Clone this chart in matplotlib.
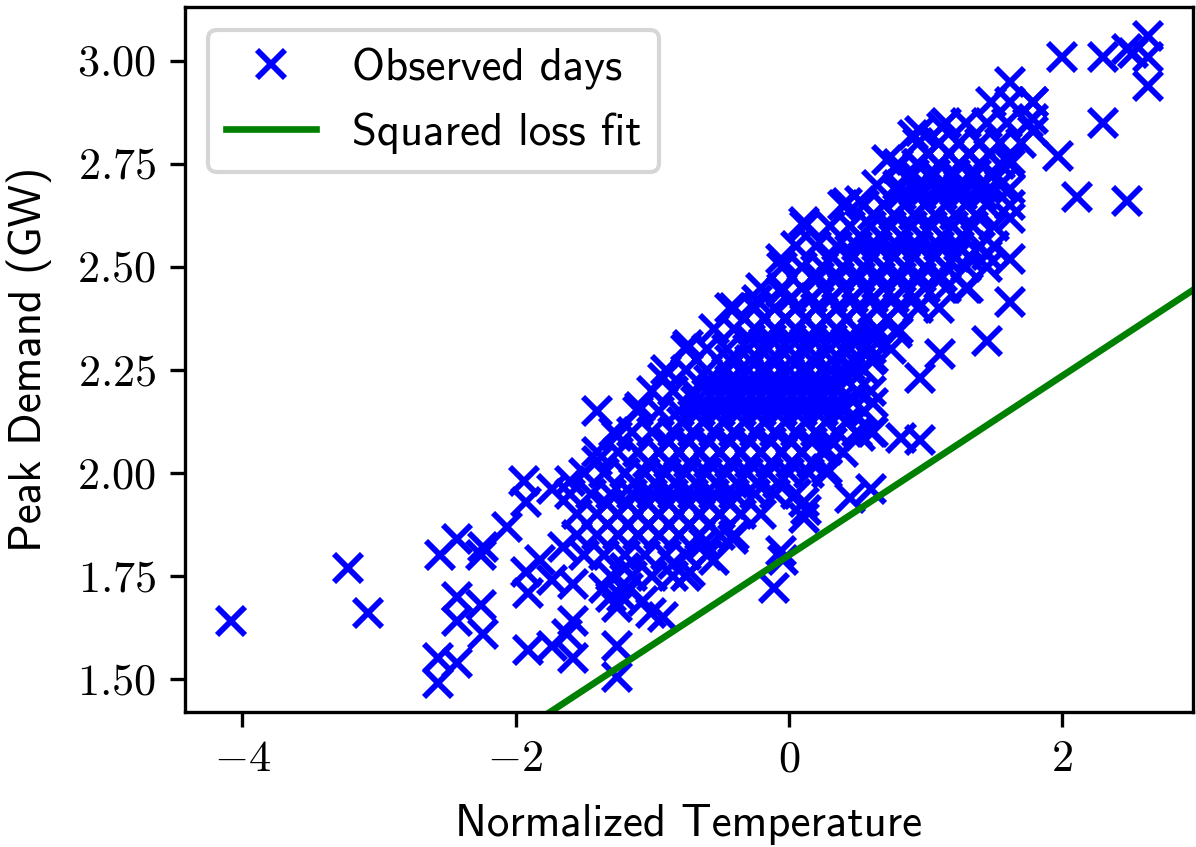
import matplotlib
matplotlib.use("Agg")
import matplotlib.pyplot as plt
from matplotlib.ticker import FuncFormatter

plt.rcParams['font.family'] = 'cmss10'
plt.rcParams['mathtext.fontset'] = 'cm'
plt.rcParams['axes.unicode_minus'] = False

# dense core of the cloud, one demand level per row
row_levels = [1.70, 1.75, 1.80, 1.85, 1.90, 1.95, 2.00, 2.05, 2.10, 2.15, 2.20,
              2.25, 2.30, 2.35, 2.40, 2.45, 2.50, 2.55, 2.60, 2.65, 2.70, 2.75,
              2.80, 2.85, 2.90]
row_temps = [
    [-1.30, -1.22],
    [-1.30, -1.15, -1.00, -0.85, -0.75],
    [-1.50, -1.35, -1.20, -1.05, -0.90, -0.75, -0.60],
    [-1.55, -1.40, -1.25, -1.10, -0.95, -0.80, -0.65, -0.50, -0.40],
    [-1.55, -1.40, -1.25, -1.10, -0.95, -0.80, -0.65, -0.50, -0.35, -0.20],
    [-1.60, -1.45, -1.30, -1.15, -1.00, -0.85, -0.70, -0.55, -0.40, -0.25, -0.10, 0.05],
    [-1.50, -1.35, -1.20, -1.05, -0.90, -0.75, -0.60, -0.45, -0.30, -0.15, 0.00, 0.15, 0.28],
    [-1.40, -1.25, -1.10, -0.95, -0.80, -0.65, -0.50, -0.35, -0.20, -0.05, 0.10, 0.25, 0.40],
    [-1.28, -1.15, -1.00, -0.85, -0.70, -0.55, -0.40, -0.25, -0.10, 0.05, 0.20, 0.35, 0.50, 0.60],
    [-1.10, -0.95, -0.80, -0.65, -0.50, -0.35, -0.20, -0.05, 0.10, 0.25, 0.40, 0.55],
    [-1.00, -0.85, -0.70, -0.55, -0.40, -0.25, -0.10, 0.05, 0.20, 0.35, 0.50, 0.60],
    [-0.90, -0.75, -0.60, -0.45, -0.30, -0.15, 0.00, 0.15, 0.30, 0.45, 0.55],
    [-0.75, -0.60, -0.45, -0.30, -0.15, 0.00, 0.15, 0.30, 0.45, 0.60, 0.75],
    [-0.55, -0.40, -0.25, -0.10, 0.05, 0.20, 0.35, 0.50, 0.65, 0.80],
    [-0.40, -0.25, -0.10, 0.05, 0.20, 0.35, 0.50, 0.65, 0.80, 0.95, 1.10],
    [-0.20, -0.05, 0.10, 0.25, 0.40, 0.55, 0.70, 0.85, 1.00, 1.15, 1.30],
    [-0.05, 0.10, 0.25, 0.40, 0.55, 0.70, 0.85, 1.00, 1.15, 1.30, 1.45],
    [0.05, 0.20, 0.35, 0.50, 0.65, 0.80, 0.95, 1.10, 1.25, 1.40, 1.50],
    [0.12, 0.30, 0.45, 0.60, 0.75, 0.90, 1.05, 1.20, 1.35, 1.50],
    [0.40, 0.55, 0.70, 0.85, 1.00, 1.15, 1.30, 1.45, 1.62],
    [0.65, 0.80, 0.95, 1.10, 1.25, 1.40, 1.55],
    [0.80, 0.95, 1.10, 1.25, 1.40, 1.55, 1.62],
    [0.95, 1.10, 1.25, 1.40, 1.55, 1.70],
    [1.15, 1.30, 1.45, 1.60, 1.75],
    [1.48, 1.62, 1.79],
]

# in-between days that make the centre of the cloud look solid
mid_levels = [1.875, 1.925, 1.975, 2.025, 2.075, 2.125, 2.175, 2.225, 2.275,
              2.325, 2.375, 2.425, 2.475, 2.525, 2.575, 2.625, 2.675, 2.725, 2.775]
mid_temps = [
    [-1.18, -1.03, -0.88, -0.73, -0.58],
    [-1.33, -1.18, -1.03, -0.88, -0.73, -0.58, -0.43],
    [-1.13, -0.98, -0.83, -0.68, -0.53, -0.38, -0.23, -0.08],
    [-1.03, -0.88, -0.73, -0.58, -0.43, -0.28, -0.13, 0.02, 0.17],
    [-0.88, -0.73, -0.58, -0.43, -0.28, -0.13, 0.02, 0.17, 0.32],
    [-0.78, -0.63, -0.48, -0.33, -0.18, -0.03, 0.12, 0.27, 0.42],
    [-0.68, -0.53, -0.38, -0.23, -0.08, 0.07, 0.22, 0.37, 0.47],
    [-0.58, -0.43, -0.28, -0.13, 0.02, 0.17, 0.32, 0.42],
    [-0.43, -0.28, -0.13, 0.02, 0.17, 0.32, 0.47, 0.60],
    [-0.28, -0.13, 0.02, 0.17, 0.32, 0.47, 0.62],
    [-0.18, -0.03, 0.12, 0.27, 0.42, 0.57, 0.72],
    [0.02, 0.17, 0.32, 0.47, 0.62, 0.77, 0.92],
    [0.22, 0.37, 0.52, 0.67, 0.82, 0.97, 1.12],
    [0.32, 0.47, 0.62, 0.77, 0.92, 1.07, 1.22, 1.32],
    [0.52, 0.67, 0.82, 0.97, 1.12, 1.27],
    [0.62, 0.77, 0.92, 1.07, 1.22, 1.37],
    [0.82, 0.97, 1.12, 1.27, 1.42],
    [0.92, 1.07, 1.22, 1.37, 1.50],
    [1.02, 1.17, 1.32, 1.47],
]

# scattered days around the edges of the cloud
edge_temp = [-4.08, -3.23, -3.08, -2.55, -2.43, -2.25, -2.24, -2.06, -1.94, -1.92,
             -1.73, -2.43, -2.25, -2.43, -2.24, -2.57, -2.43, -2.57, -1.91, -1.91,
             -1.73, -1.58, -1.58, -1.62, -1.92, -1.73, -1.58, -1.65, -1.82, -1.40,
             -1.26, -1.40, -1.60, -1.09, -0.92, -0.74, -0.43, -0.23, -0.06, 0.11,
             -0.06, 0.43, 0.52, 0.79, 0.94, 0.72, 0.91, 0.96, 1.12,
             -1.26, -1.26, -1.07, -0.92, -1.26, -0.72, -0.55, -0.41, -0.06, -0.11,
             -0.04, 0.11, 0.13, 0.45, 0.60, 0.28, 0.28, 0.11, 0.52, 0.62,
             0.62, 0.45, 0.62, 0.62, 0.79, 0.96, 1.11, 0.96, 0.82, 1.31,
             1.45, 1.62, 1.62, 1.62, 1.45, 1.62, 1.62,
             2.00, 2.30, 2.48, 2.52, 2.63, 2.63, 2.63, 2.30, 1.97, 2.11,
             2.48, 1.62, 1.79, 1.79, 1.79,
             -1.01, -1.18, -0.85, -0.62, -1.35, -1.20]
edge_demand = [1.64, 1.77, 1.66, 1.80, 1.84, 1.80, 1.82, 1.87, 1.98, 1.93,
               1.96, 1.70, 1.68, 1.64, 1.61, 1.55, 1.54, 1.49, 1.71, 1.57,
               1.58, 1.64, 1.55, 1.61, 1.76, 1.74, 1.73, 1.82, 1.79, 2.15,
               2.09, 2.03, 1.98, 2.16, 2.23, 2.31, 2.40, 2.42, 2.44, 2.61,
               2.52, 2.655, 2.66, 2.74, 2.75, 2.76, 2.82, 2.83, 2.84,
               1.505, 1.58, 1.69, 1.65, 1.675, 1.76, 1.79, 1.84, 1.81, 1.72,
               1.79, 1.89, 1.91, 1.94, 1.96, 2.055, 2.01, 1.93, 2.09, 2.10,
               2.17, 2.26, 2.28, 2.34, 2.34, 2.23, 2.29, 2.08, 2.085, 2.45,
               2.32, 2.415, 2.52, 2.62, 2.53, 2.69, 2.76,
               3.01, 3.01, 3.03, 3.02, 3.06, 3.01, 2.94, 2.85, 2.77, 2.67,
               2.66, 2.95, 2.90, 2.86, 2.83,
               1.66, 1.72, 1.78, 1.83, 1.72, 1.77]

# squared loss fit line
fit_intercept = 1.80
fit_slope = 0.2176

temp = []
demand = []
for level, xs in zip(row_levels + mid_levels, row_temps + mid_temps):
    temp += xs
    demand += [level] * len(xs)
temp += edge_temp
demand += edge_demand

fig = plt.figure(figsize=(1196 / 300, 847 / 300), dpi=300)
ax = fig.add_axes([185 / 1196, 1 - 712 / 847, 1008 / 1196, 705 / 847])

ax.plot(temp, demand, 'bx', ms=6.8, mew=1.4, label='Observed days')
fit_x = [-4.6, 3.1]
fit_y = [fit_intercept + fit_slope * v for v in fit_x]
ax.plot(fit_x, fit_y, 'g-', lw=1.6, label='Squared loss fit')

ax.set_xlim(-4.42, 2.96)
ax.set_ylim(1.42, 3.131)
ax.set_xticks([-4, -2, 0, 2])
ax.set_yticks([1.50, 1.75, 2.00, 2.25, 2.50, 2.75, 3.00])
ax.xaxis.set_major_formatter(FuncFormatter(lambda v, p: r'$%g$' % v))
ax.yaxis.set_major_formatter(FuncFormatter(lambda v, p: r'$%.2f$' % v))
ax.tick_params(labelsize=10.6)

ax.set_xlabel('Normalized Temperature', fontsize=10.8, labelpad=6)
ax.set_ylabel('Peak Demand (GW)', fontsize=10.8, labelpad=6)
ax.legend(loc='upper left', fontsize=10.8)

fig.savefig('out.png', dpi=300)
